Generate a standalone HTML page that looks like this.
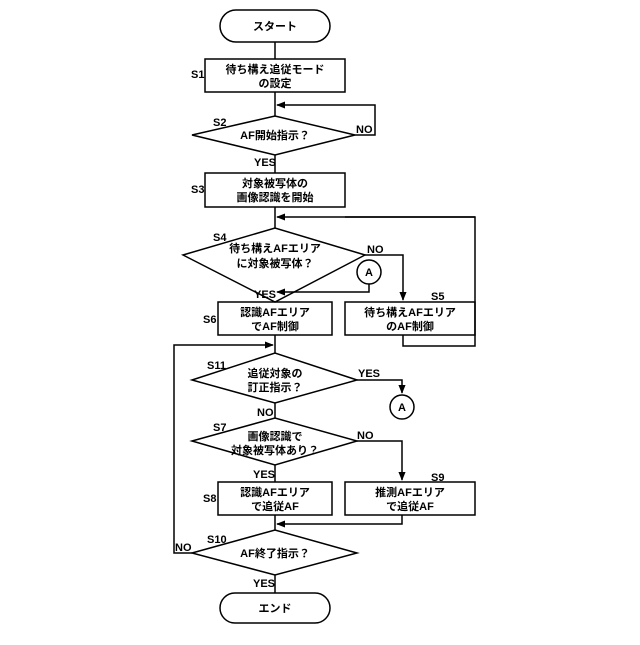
<!DOCTYPE html>
<html><head><meta charset="utf-8"><style>
body{margin:0;background:#fff}
text{font-family:"Liberation Sans","Noto Sans CJK JP",sans-serif;font-size:11px;fill:#000;font-weight:bold}
</style></head><body>
<svg width="640" height="640" viewBox="0 0 640 640" xmlns="http://www.w3.org/2000/svg">
<defs><marker id="a" viewBox="0 0 10 10" refX="9" refY="5" markerWidth="6" markerHeight="6" orient="auto"><path d="M0,1L10,5L0,9z" fill="#000"/></marker></defs>
<g fill="none" stroke="#000" stroke-width="1.5">
<rect x="220" y="10" width="110" height="32" rx="16"/>
<rect x="205" y="59" width="140" height="33"/>
<polygon points="192,135 275,116 355,135 275,155"/>
<rect x="205" y="173" width="140" height="34"/>
<polygon points="183,255 275,228 365,255 275,302"/>
<rect x="218" y="302" width="114" height="33"/>
<rect x="345" y="302" width="130" height="33"/>
<circle cx="369" cy="272" r="12"/>
<polygon points="192,380 275,353 357,380 275,403"/>
<circle cx="402" cy="407" r="12"/>
<polygon points="192,441 275,418 357,441 275,465"/>
<rect x="218" y="482" width="114" height="33"/>
<rect x="345" y="482" width="130" height="33"/>
<polygon points="192,553 275,530 357,553 275,575"/>
<rect x="220" y="593" width="110" height="30" rx="15"/>
<path d="M275,42V59M275,92V116M275,155V173M275,207V228M275,302V302M275,335V353M275,403V418M275,465V482M275,515V530M275,575V593"/>
<path d="M355,135H375V105H277" marker-end="url(#a)"/>
<path d="M345,217H475V346H403V335"/>
<path d="M475,217H277" marker-end="url(#a)"/>
<path d="M365,255H403V300" marker-end="url(#a)"/>
<path d="M369,284V292H277" marker-end="url(#a)"/>
<path d="M192,553H174V345H273" marker-end="url(#a)"/>
<path d="M357,380H402V393" marker-end="url(#a)"/>
<path d="M357,441H402V480" marker-end="url(#a)"/>
<path d="M402,515V524H277" marker-end="url(#a)"/>
</g>
<g text-anchor="middle">
<text x="275" y="30">スタート</text>
<text x="275" y="73">待ち構え追従モード</text><text x="275" y="87">の設定</text>
<text x="275" y="139">AF開始指示？</text>
<text x="275" y="187">対象被写体の</text><text x="275" y="201">画像認識を開始</text>
<text x="275" y="252">待ち構えAFエリア</text><text x="275" y="267">に対象被写体？</text>
<text x="369" y="276">A</text>
<text x="275" y="316">認識AFエリア</text><text x="275" y="330">でAF制御</text>
<text x="410" y="316">待ち構えAFエリア</text><text x="410" y="330">のAF制御</text>
<text x="275" y="377">追従対象の</text><text x="275" y="391">訂正指示？</text>
<text x="402" y="411">A</text>
<text x="275" y="440">画像認識で</text><text x="275" y="454">対象被写体あり？</text>
<text x="275" y="496">認識AFエリア</text><text x="275" y="510">で追従AF</text>
<text x="410" y="496">推測AFエリア</text><text x="410" y="510">で追従AF</text>
<text x="275" y="557">AF終了指示？</text>
<text x="275" y="612">エンド</text>
</g>
<g>
<text x="191" y="78">S1</text><text x="213" y="126">S2</text><text x="191" y="193">S3</text>
<text x="213" y="241">S4</text><text x="203" y="323">S6</text><text x="431" y="300">S5</text>
<text x="207" y="369">S11</text><text x="213" y="431">S7</text><text x="203" y="502">S8</text>
<text x="431" y="481">S9</text><text x="207" y="543">S10</text>
<text x="356" y="133">NO</text><text x="254" y="166">YES</text>
<text x="367" y="253">NO</text><text x="254" y="298">YES</text>
<text x="358" y="377">YES</text><text x="257" y="416">NO</text>
<text x="357" y="439">NO</text><text x="253" y="478">YES</text>
<text x="175" y="551">NO</text><text x="253" y="587">YES</text>
</g>
</svg>
</body></html>
